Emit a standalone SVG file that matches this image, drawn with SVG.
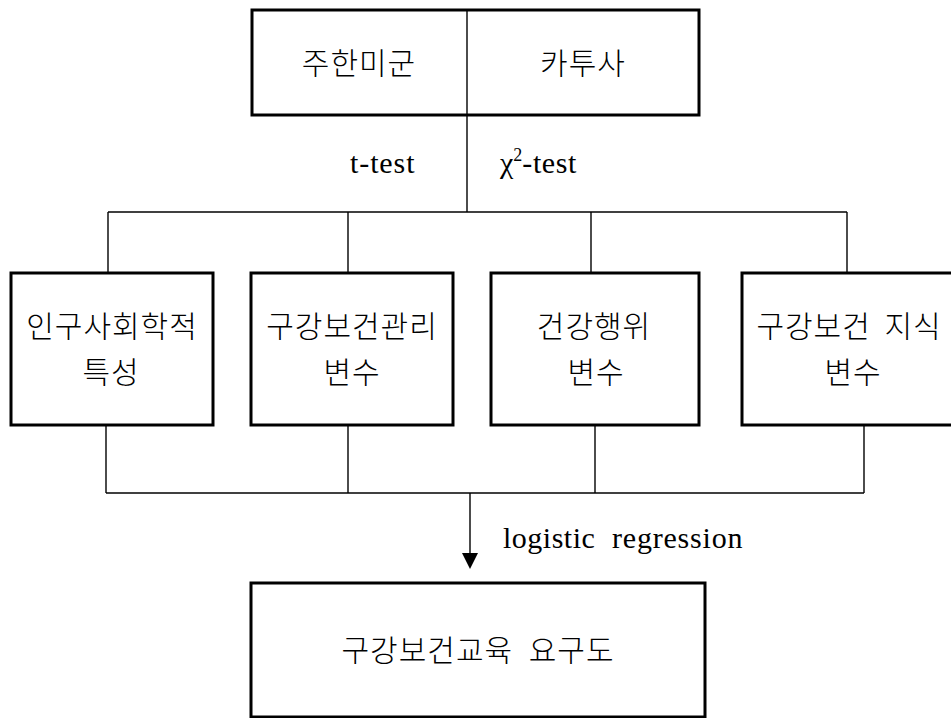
<svg xmlns="http://www.w3.org/2000/svg" width="951" height="718" viewBox="0 0 951 718">
<defs>
<style>
.box{fill:#fff;stroke:#000;stroke-width:3}
.ln{fill:none;stroke:#000;stroke-width:1.4}
.k{font-family:"Noto Sans CJK KR","Noto Sans CJK SC",sans-serif;font-size:30px;font-weight:300;letter-spacing:1px;fill:#000;text-anchor:middle}
.e{font-family:"Liberation Serif","Times New Roman",serif;font-size:30px;fill:#000}
</style>
</defs>
<rect width="951" height="718" fill="#fff"/>
<g id="connectors">
<line class="ln" x1="467" y1="115" x2="467" y2="212"/>
<line class="ln" x1="108" y1="212" x2="847" y2="212"/>
<line class="ln" x1="108" y1="212" x2="108" y2="273"/>
<line class="ln" x1="348" y1="212" x2="348" y2="273"/>
<line class="ln" x1="591" y1="212" x2="591" y2="273"/>
<line class="ln" x1="847" y1="212" x2="847" y2="273"/>
<line class="ln" x1="106" y1="425" x2="106" y2="493"/>
<line class="ln" x1="348" y1="425" x2="348" y2="493"/>
<line class="ln" x1="595" y1="425" x2="595" y2="493"/>
<line class="ln" x1="864" y1="425" x2="864" y2="493"/>
<line class="ln" x1="106" y1="493" x2="864" y2="493"/>
<line class="ln" x1="470" y1="493" x2="470" y2="553"/>
<path d="M462,553 L478,553 L470,569 Z" fill="#000"/>
<text class="e" x="350" y="173" letter-spacing="0.9">t-test</text>
<text class="e" x="500" y="173">χ<tspan font-size="18" dy="-12">2</tspan><tspan dy="12" letter-spacing="0.6">-test</tspan></text>
<text class="e" y="548"><tspan x="503" letter-spacing="0.5">logistic</tspan><tspan x="612" letter-spacing="0.8">regression</tspan></text>
</g>
<g id="top">
<rect class="box" x="252" y="10" width="447" height="105"/>
<line class="ln" x1="467" y1="10" x2="467" y2="115"/>
<text class="k" x="359" y="74">주한미군</text>
<text class="k" x="583" y="74">카투사</text>
</g>
<g id="n1">
<rect class="box" x="11" y="273" width="202" height="152"/>
<text class="k" x="112" y="337">인구사회학적</text>
<text class="k" x="111" y="383">특성</text>
</g>
<g id="n2">
<rect class="box" x="251" y="273" width="202" height="152"/>
<text class="k" x="352" y="337">구강보건관리</text>
<text class="k" x="352" y="383">변수</text>
</g>
<g id="n3">
<rect class="box" x="491" y="273" width="208" height="152"/>
<text class="k" x="594" y="337">건강행위</text>
<text class="k" x="596" y="383">변수</text>
</g>
<g id="n4">
<rect class="box" x="742" y="273" width="216" height="152"/>
<text class="k" x="849" y="337" word-spacing="6">구강보건 지식</text>
<text class="k" x="853" y="383">변수</text>
</g>
<g id="out">
<rect class="box" x="251" y="583" width="454" height="134"/>
<text class="k" x="478" y="661" word-spacing="8">구강보건교육 요구도</text>
</g>
</svg>
